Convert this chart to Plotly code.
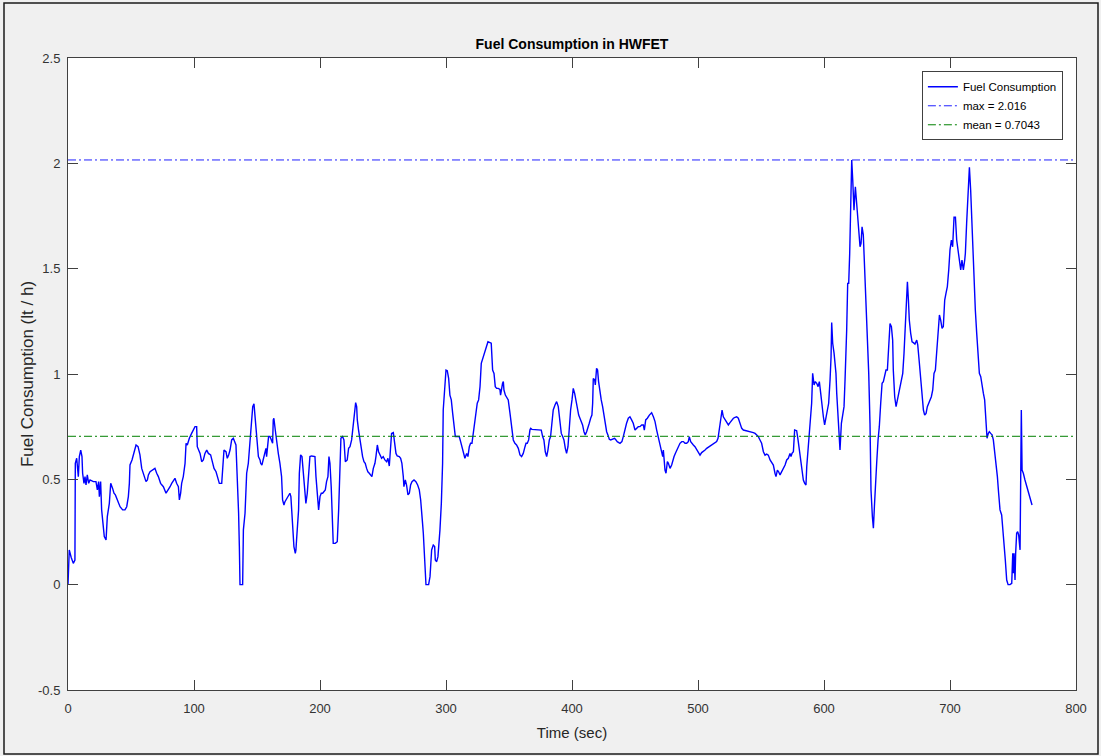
import plotly.graph_objects as go

# ---- data (time in s, fuel consumption in lt/h) ----
time_sec = [
    0, 1.0, 2.5, 4.2, 5.5, 5.8, 6.9, 8.2, 9.0, 10.1,
    11.1, 11.6, 12.7, 13.5, 14.3, 15.3, 16.4, 17.5, 20.1, 22.2,
    23.3, 24.3, 24.9, 25.9, 26.7, 28.0, 28.8, 30.2, 31.2, 32.8,
    33.9, 35.4, 36.5, 37.6, 39.2, 41.3, 43.4, 45.2, 46.6, 47.9,
    48.7, 49.2, 50.8, 52.4, 54.0, 55.6, 57.1, 58.5, 59.8, 61.1,
    61.9, 63.0, 63.8, 65.1, 67.2, 69.0, 70.4, 71.7, 73.5, 75.7,
    77.8, 79.6, 81.0, 82.3, 83.6, 84.9, 86.2, 87.6, 88.4, 89.4,
    90.2, 91.5, 92.9, 93.7, 94.7, 96.3, 98.1, 99.5, 100.8, 102.1,
    102.6, 104.8, 106.1, 107.4, 108.7, 110.1, 111.4, 113.2, 114.8, 115.9,
    117.5, 118.5, 120.1, 122.0, 122.7, 123.8, 125.4, 126.4, 127.5, 128.6,
    129.9, 131.2, 133.3, 134.4, 135.4, 136.0, 136.5, 138.6, 139.2, 140.5,
    141.8, 143.1, 144.4, 145.8, 146.6, 147.6, 148.4, 149.7, 151.1, 152.4,
    152.9, 153.9, 155.0, 156.0, 157.1, 157.6, 158.2, 159.2, 160.3, 161.6,
    162.4, 162.9, 163.4, 164.5, 165.6, 166.9, 168.2, 169.5, 170.3, 171.4,
    172.2, 173.5, 174.8, 176.1, 176.9, 177.5, 178.3, 179.3, 180.4, 180.9,
    181.4, 182.0, 183.0, 183.6, 184.6, 185.7, 186.7, 187.8, 188.8, 189.9,
    191.0, 192.0, 193.3, 194.7, 196.0, 196.8, 197.8, 198.9, 200.0, 201.0,
    202.1, 203.1, 204.2, 205.2, 206.3, 207.1, 207.9, 208.9, 210.0, 210.5,
    212.1, 213.7, 214.8, 215.8, 216.6, 217.9, 219.0, 220.1, 221.6, 222.7,
    223.8, 225.1, 226.4, 227.5, 228.3, 229.1, 229.6, 230.6, 231.7, 232.8,
    233.8, 234.9, 235.9, 237.0, 238.0, 239.1, 240.2, 241.2, 242.3, 243.6,
    244.4, 245.5, 246.5, 247.6, 248.9, 250.2, 251.5, 252.9, 253.9, 255.0,
    255.5, 256.0, 256.8, 258.2, 259.0, 260.3, 261.3, 262.9, 264.0, 265.0,
    266.1, 266.6, 267.7, 268.7, 269.8, 270.9, 271.9, 273.0, 274.6, 276.1,
    277.5, 278.8, 279.9, 280.6, 281.4, 282.0, 282.8, 283.3, 284.1, 286.2,
    287.3, 287.8, 288.6, 289.9, 291.0, 291.5, 292.6, 293.6, 294.1, 295.2,
    296.3, 297.3, 297.8,
    298.9, 300.0, 301.0, 302.1, 303.1, 304.2, 305.3, 306.3, 307.4, 309.0,
    310.5, 311.6, 312.7, 313.7, 315.0, 316.4, 317.4, 318.5, 319.5, 320.6,
    321.7, 322.7, 323.8, 324.8, 325.9, 327.0, 328.0, 329.1, 330.1, 331.2,
    332.2, 333.3, 334.9, 335.9, 337.0, 338.1, 339.1, 340.2, 341.5, 342.8,
    343.3, 343.9, 344.9, 345.5, 346.0, 347.1, 348.1, 349.4, 350.8, 352.1,
    353.4, 354.7, 356.0, 357.4, 358.7, 360.0, 361.3, 362.7, 363.5, 364.5,
    365.6, 366.6, 367.2, 368.2, 369.8, 371.9, 374.6, 375.6, 376.7, 377.7,
    378.8, 379.9, 380.9, 382.0, 383.0, 384.1, 385.1, 386.5, 387.8, 389.1,
    390.4, 391.5, 392.6, 393.6, 394.7, 395.7, 396.8, 397.8, 398.9, 400.0,
    401.0, 402.1, 403.1, 404.2, 405.3, 406.3, 407.4, 408.4, 409.5, 410.5,
    411.6, 412.7, 413.7, 414.8, 415.8, 416.4, 416.9, 418.0, 418.5, 419.5,
    420.3, 421.1, 422.2, 423.2, 424.3, 425.4, 426.4, 427.5, 428.5, 429.6,
    430.7, 431.7, 432.8, 433.8, 434.9, 435.9, 438.1, 439.6, 440.7, 442.0,
    443.3, 444.7, 446.0, 447.3, 448.6, 450.0, 451.3, 452.6, 453.9,
    455.3, 456.6, 457.4, 458.5, 459.8, 461.4, 463.2, 464.6, 465.9, 467.2,
    468.5, 469.9, 471.2, 472.0, 472.5, 473.0, 473.8, 474.6, 475.7, 476.5,
    477.8, 479.1, 479.9, 481.0, 482.0, 483.1, 484.4, 485.7, 487.1, 488.4,
    489.7, 491.0, 492.3, 493.1, 494.2, 495.0, 496.3, 497.6, 499.0, 500.3,
    501.6, 502.9, 504.2, 505.6, 506.9, 508.2, 509.5, 510.9, 512.2, 513.5,
    514.8, 515.9, 517.0, 518.0, 519.1, 520.1, 521.4, 522.8, 524.1, 525.4,
    526.7, 528.1, 529.4, 530.7, 532.0, 533.4, 534.7, 536.0, 538.6, 541.3,
    543.9, 545.3, 546.6, 547.9, 549.2, 550.5, 551.9, 553.2, 554.5, 555.8,
    557.2, 558.5, 559.8, 561.1, 561.9, 563.0, 564.0,
    565.1, 566.4, 567.7, 569.1, 570.4, 571.7, 573.0, 573.8, 574.6, 575.7,
    576.7, 578.3, 579.4, 580.4, 581.5, 582.6, 583.6, 584.7, 585.7, 586.3,
    587.3, 588.4, 589.4, 590.2, 591.0, 592.1, 593.1, 594.2, 595.3, 596.3,
    597.4, 598.4, 599.5, 600.5, 601.6, 602.7, 603.7, 604.8, 605.6, 606.1,
    606.9, 608.0, 608.8, 609.5, 610.1, 610.9, 611.7, 612.7, 613.8, 614.8,
    615.9, 616.7, 617.5, 618.0, 618.8, 619.6, 620.4, 621.2, 622.0, 622.8,
    623.8, 624.9, 625.9, 627.0, 627.8, 628.6, 629.4, 630.2, 631.2, 632.3,
    633.4, 634.4, 635.5, 636.5, 637.3, 638.4, 639.2, 640.0, 640.8, 641.8,
    642.9, 643.9, 645.0, 646.1, 647.1, 648.2, 649.2, 650.3, 651.3, 652.4,
    653.5, 654.5, 655.0, 656.1, 657.2, 658.2, 659.3, 660.3, 661.4, 662.5,
    663.5, 664.6, 665.6, 666.2, 667.0, 667.7, 668.8, 669.9, 670.9, 672.2,
    673.6, 674.4, 675.7, 676.7, 677.8, 678.9, 679.9, 681.0, 682.0, 683.6,
    685.2, 686.3, 687.3, 688.4, 689.4, 690.5, 691.6, 692.6, 693.7, 694.7,
    695.8, 696.8, 697.9, 699.0, 700.0, 701.1, 702.1, 703.2, 704.3, 705.3,
    706.4, 707.4, 708.5, 709.5, 710.6, 711.7, 712.2, 713.2, 714.3, 715.4,
    716.4, 717.2, 718.0, 719.1, 720.1, 721.2, 722.2, 723.3, 724.4, 725.4,
    726.5, 727.5, 728.6, 729.4, 730.4, 731.2, 732.3, 733.4, 734.4, 735.5,
    736.5, 737.6, 738.6, 739.7, 741.0, 741.8, 742.9, 743.9, 745.0, 746.1,
    747.6, 749.0, 749.8, 750.3, 750.8, 751.6, 752.1, 752.9, 753.7, 754.5,
    755.6, 756.1, 756.6, 757.2, 758.2, 759.5, 760.9, 762.2, 763.5, 765.1,
]

fuel_lph = [
    0.0, 0.165, 0.13, 0.101, 0.117, 0.576, 0.600, 0.513, 0.608, 0.639,
    0.608, 0.529, 0.481, 0.513, 0.473, 0.521, 0.481, 0.497, 0.489, 0.489,
    0.450, 0.489, 0.418, 0.489, 0.355, 0.260, 0.228, 0.212, 0.323, 0.386,
    0.481, 0.457, 0.434, 0.426, 0.402, 0.370, 0.355, 0.355, 0.370, 0.418,
    0.481, 0.568, 0.592, 0.623, 0.663, 0.655, 0.616, 0.552, 0.529, 0.513,
    0.489, 0.497, 0.521, 0.536, 0.544, 0.552, 0.529, 0.513, 0.481, 0.465,
    0.434, 0.450, 0.465, 0.481, 0.497, 0.505, 0.481, 0.465, 0.402, 0.434,
    0.481, 0.513, 0.576, 0.671, 0.663, 0.695, 0.718, 0.734, 0.750, 0.750,
    0.655, 0.623, 0.584, 0.592, 0.623, 0.639, 0.623, 0.616, 0.584, 0.552,
    0.536, 0.513, 0.481, 0.481, 0.544, 0.639, 0.631, 0.600, 0.616, 0.639,
    0.687, 0.695, 0.663, 0.513, 0.339, 0.181, 0.0, 0.0, 0.260, 0.339,
    0.529, 0.576, 0.687, 0.766, 0.845, 0.858, 0.798, 0.687, 0.608, 0.592,
    0.576, 0.568, 0.592, 0.623, 0.647, 0.608, 0.655, 0.703, 0.703, 0.687,
    0.671, 0.782, 0.790, 0.734, 0.671, 0.623, 0.576, 0.513, 0.402, 0.378,
    0.394, 0.410, 0.426, 0.434, 0.418, 0.355, 0.228, 0.181, 0.149, 0.165,
    0.212, 0.275, 0.355, 0.529, 0.616, 0.608, 0.544, 0.450, 0.386, 0.434,
    0.529, 0.608, 0.611, 0.608, 0.608, 0.513, 0.418, 0.355, 0.418, 0.434,
    0.434, 0.442, 0.450, 0.489, 0.513, 0.608, 0.576, 0.465, 0.323, 0.196,
    0.196, 0.204, 0.355, 0.576, 0.695, 0.703, 0.687, 0.584, 0.592, 0.647,
    0.655, 0.687, 0.750, 0.813, 0.864, 0.845, 0.782, 0.734, 0.687, 0.639,
    0.608, 0.584, 0.576, 0.552, 0.536, 0.529, 0.521, 0.513, 0.552, 0.576,
    0.608, 0.663, 0.631, 0.616, 0.600, 0.608, 0.592, 0.584, 0.600, 0.563,
    0.608, 0.687, 0.718, 0.722, 0.687, 0.623, 0.611, 0.608, 0.600, 0.576,
    0.513, 0.465, 0.497, 0.473, 0.426, 0.434, 0.473, 0.489, 0.497, 0.489,
    0.473, 0.450, 0.402, 0.323, 0.291, 0.244, 0.133, 0.038, 0.0, 0.0,
    0.038, 0.086, 0.165, 0.188, 0.181, 0.117, 0.109, 0.133, 0.196, 0.260,
    0.386, 0.576, 0.829,
    0.924, 1.019, 1.016, 0.979, 0.900, 0.877, 0.813, 0.742, 0.703, 0.703,
    0.703, 0.679, 0.655, 0.631, 0.600, 0.623, 0.608, 0.655, 0.671, 0.671,
    0.718, 0.782, 0.829, 0.861, 0.877, 0.940, 1.051, 1.074, 1.098, 1.114,
    1.138, 1.153, 1.149, 1.146, 1.019, 1.003, 0.940, 0.932, 0.932, 0.927,
    0.900, 0.932, 0.956, 0.964, 0.924, 0.900, 0.892, 0.877, 0.813, 0.750,
    0.687, 0.671, 0.663, 0.647, 0.616, 0.608, 0.623, 0.655, 0.671, 0.671,
    0.687, 0.734, 0.742, 0.737, 0.737, 0.737, 0.734, 0.734, 0.703, 0.687,
    0.631, 0.608, 0.639, 0.687, 0.703, 0.766, 0.829, 0.853, 0.869, 0.845,
    0.782, 0.718, 0.703, 0.687, 0.647, 0.623, 0.655, 0.750, 0.829, 0.877,
    0.932, 0.908, 0.877, 0.829, 0.805, 0.790, 0.774, 0.758, 0.726, 0.711,
    0.726, 0.742, 0.766, 0.790, 0.805, 0.861, 0.979, 0.972, 0.948, 1.027,
    1.019, 0.964, 0.908, 0.877, 0.845, 0.797, 0.750, 0.726, 0.711, 0.690,
    0.687, 0.690, 0.695, 0.695, 0.687, 0.679, 0.671, 0.679, 0.703, 0.742,
    0.766, 0.790, 0.797, 0.782, 0.766, 0.734, 0.742, 0.750, 0.750,
    0.758, 0.758, 0.734, 0.782, 0.790, 0.805, 0.816, 0.797, 0.774, 0.734,
    0.703, 0.671, 0.631, 0.608, 0.639, 0.592, 0.544, 0.529, 0.584, 0.576,
    0.552, 0.568, 0.592, 0.608, 0.623, 0.639, 0.655, 0.671, 0.679, 0.679,
    0.671, 0.671, 0.679, 0.703, 0.679, 0.671, 0.663, 0.655, 0.639, 0.631,
    0.615, 0.627, 0.631, 0.639, 0.647, 0.652, 0.655, 0.663, 0.668, 0.674,
    0.679, 0.695, 0.750, 0.782, 0.829, 0.797, 0.782, 0.766, 0.758, 0.769,
    0.782, 0.790, 0.794, 0.797, 0.790, 0.758, 0.742, 0.734, 0.731, 0.726,
    0.722, 0.718, 0.711, 0.703, 0.687, 0.671, 0.631, 0.615, 0.620, 0.615,
    0.592, 0.576, 0.568, 0.529, 0.513, 0.544, 0.536,
    0.521, 0.536, 0.544, 0.568, 0.592, 0.600, 0.623, 0.608, 0.623, 0.631,
    0.734, 0.731, 0.687, 0.639, 0.592, 0.544, 0.497, 0.481, 0.473, 0.560,
    0.639, 0.718, 0.758, 0.861, 1.003, 0.948, 0.964, 0.956, 0.940, 0.964,
    0.908, 0.845, 0.797, 0.758, 0.797, 0.829, 0.861, 0.972, 1.082, 1.244,
    1.146, 1.098, 1.035, 1.003, 0.908, 0.805, 0.750, 0.639, 0.766, 0.797,
    0.845, 0.972, 1.098, 1.209, 1.430, 1.430, 1.573, 1.763, 2.016, 1.921,
    1.778, 1.889, 1.802, 1.715, 1.636, 1.604, 1.620, 1.699, 1.660, 1.509,
    1.335, 1.193, 1.003, 0.766, 0.449, 0.323, 0.268, 0.370, 0.497, 0.576,
    0.687, 0.750, 0.861, 0.956, 0.964, 1.003, 1.019, 1.019, 1.130, 1.240,
    1.225, 1.161, 1.019, 0.892, 0.845, 0.877, 0.908, 0.940, 0.972, 1.003,
    1.098, 1.240, 1.335, 1.438, 1.351, 1.256, 1.193, 1.153, 1.149, 1.142,
    1.161, 1.138, 1.051, 0.972, 0.908, 0.829, 0.805, 0.813, 0.845, 0.869,
    0.892, 0.924, 1.003, 1.019, 1.098, 1.209, 1.280, 1.256, 1.217, 1.225,
    1.351, 1.383, 1.415, 1.494, 1.589, 1.636, 1.604, 1.744, 1.744, 1.636,
    1.589, 1.541, 1.494, 1.541, 1.494, 1.541, 1.573, 1.715, 1.842, 1.981,
    1.873, 1.731, 1.573, 1.430, 1.304, 1.193, 1.082, 1.003, 0.987, 0.940,
    0.908, 0.877, 0.766, 0.695, 0.718, 0.726, 0.718, 0.711, 0.687, 0.623,
    0.592, 0.513, 0.434, 0.355, 0.331, 0.275, 0.228, 0.117, 0.022, 0.0,
    0.0, 0.006, 0.149, 0.054, 0.149, 0.022, 0.149, 0.244, 0.252, 0.236,
    0.165, 0.829, 0.829, 0.544, 0.529, 0.497, 0.465, 0.434, 0.410, 0.378,
]

max_value = 2.016
mean_value = 0.7043

x_range = [0, 800]
y_range = [-0.5, 2.5]
x_ticks = [0, 100, 200, 300, 400, 500, 600, 700, 800]
y_ticks = [-0.5, 0, 0.5, 1, 1.5, 2, 2.5]
y_tick_text = ["-0.5", "0", "0.5", "1", "1.5", "2", "2.5"]

FONT = "Liberation Sans, Arial, Helvetica, sans-serif"
DASHDOT = "8px,3px,2px,3px"

fig = go.Figure()
fig.add_trace(go.Scatter(
    x=time_sec, y=fuel_lph, mode="lines", name="Fuel Consumption",
    line=dict(color="#0000ff", width=1.4),
))
fig.add_trace(go.Scatter(
    x=x_range, y=[max_value, max_value], mode="lines",
    name=f"max = {max_value}",
    line=dict(color="#2020ff", width=1, dash=DASHDOT),
))
fig.add_trace(go.Scatter(
    x=x_range, y=[mean_value, mean_value], mode="lines",
    name=f"mean = {mean_value}",
    line=dict(color="#008000", width=1, dash=DASHDOT),
))

axis_common = dict(
    showgrid=False, zeroline=False, showline=True, linecolor="#404040",
    linewidth=1, mirror="ticks", ticks="inside", ticklen=10,
    tickcolor="#404040", tickwidth=1,
    tickfont=dict(family=FONT, size=13, color="#333333"),
)

fig.update_layout(
    width=1101, height=756,
    margin=dict(l=68, r=25, t=58, b=66, autoexpand=False),
    paper_bgcolor="#f0f0f0", plot_bgcolor="#ffffff",
    font=dict(family=FONT, color="#262626"),
    title=dict(
        text="Fuel Consumption in HWFET", x=0.5, xref="paper",
        y=1 - 44 / 756, yref="container", yanchor="middle", xanchor="center",
        font=dict(family=FONT, size=14, color="#000000", weight="bold"),
    ),
    xaxis=dict(
        range=x_range, tickvals=x_ticks, ticklabelstandoff=6,
        title=dict(text="Time (sec)", standoff=12,
                   font=dict(family=FONT, size=15, color="#262626")),
        automargin=False, **axis_common,
    ),
    yaxis=dict(
        range=y_range, tickvals=y_ticks, ticktext=y_tick_text,
        ticklabelstandoff=4,
        title=dict(text="Fuel Consumption (lt / h)", standoff=0,
                   font=dict(family=FONT, size=17, color="#262626")),
        automargin=False, **axis_common,
    ),
    legend=dict(
        x=0.987, xanchor="right", y=0.979, yanchor="top",
        bgcolor="#ffffff", bordercolor="#404040", borderwidth=1,
        font=dict(family=FONT, size=11.5, color="#000000"),
        tracegroupgap=0, itemwidth=30,
    ),
    shapes=[dict(
        type="rect", xref="paper", yref="paper",
        x0=(4 - 68) / 1008, x1=(1098 - 68) / 1008,
        y0=(690 - 754) / 632, y1=(690 - 3) / 632,
        line=dict(color="#1a1a1a", width=1.5), fillcolor="rgba(0,0,0,0)",
        layer="above",
    )],
    showlegend=True,
)

fig.write_html("out.html")
